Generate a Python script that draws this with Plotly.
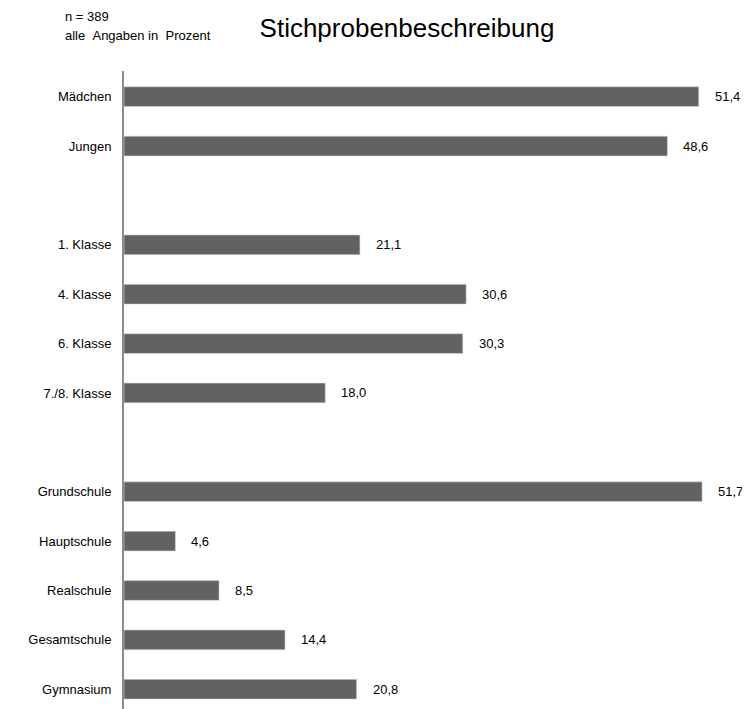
import plotly.graph_objects as go

categories = ["Mädchen", "Jungen", "", "1. Klasse", "4. Klasse", "6. Klasse", "7./8. Klasse", "",
              "Grundschule", "Hauptschule", "Realschule", "Gesamtschule", "Gymnasium"]
values = [51.4, 48.6, None, 21.1, 30.6, 30.3, 18.0, None, 51.7, 4.6, 8.5, 14.4, 20.8]
value_labels = ["51,4", "48,6", "", "21,1", "30,6", "30,3", "18,0", "", "51,7", "4,6", "8,5", "14,4", "20,8"]

rows = list(range(len(categories)))
font = "Liberation Sans, Arial, sans-serif"

fig = go.Figure()
fig.add_trace(go.Bar(
    y=rows, x=values, orientation="h",
    marker=dict(color="#626262", line=dict(color="#d9d9d9", width=0.6)),
    width=0.4, hoverinfo="skip",
))

for r, v, lab in zip(rows, values, value_labels):
    if v is None:
        continue
    fig.add_annotation(x=v, y=r, text=lab, showarrow=False, xanchor="left",
                       xshift=14, font=dict(family=font, size=13, color="#000000"))

fig.add_annotation(xref="paper", yref="paper", x=-0.0992, y=1.0, yshift=55,
                   xanchor="left", yanchor="middle", align="left",
                   text="n = 389",
                   showarrow=False, font=dict(family=font, size=13, color="#000000"))
fig.add_annotation(xref="paper", yref="paper", x=-0.0992, y=1.0, yshift=36,
                   xanchor="left", yanchor="middle", align="left",
                   text="alle\u00a0\u00a0Angaben in\u00a0\u00a0Prozent",
                   showarrow=False, font=dict(family=font, size=13, color="#000000"))

fig.update_layout(
    width=750, height=709,
    margin=dict(l=116, r=19, t=63, b=8),
    paper_bgcolor="white", plot_bgcolor="white",
    showlegend=False,
    title=dict(text="Stichprobenbeschreibung", xref="container", x=0.532, xanchor="center",
               yref="container", y=1 - 20 / 709, yanchor="middle",
               font=dict(family=font, size=26, color="#000000")),
    xaxis=dict(range=[0, 55], visible=False, fixedrange=True),
    yaxis=dict(range=[12.4, -0.52], tickmode="array", tickvals=rows, ticktext=categories,
               showgrid=False, zeroline=False, showline=True, linecolor="#8c8c8c", linewidth=2,
               ticks="", ticklabelstandoff=8,
               tickfont=dict(family=font, size=13, color="#000000")),
)

fig.write_html("out.html")
